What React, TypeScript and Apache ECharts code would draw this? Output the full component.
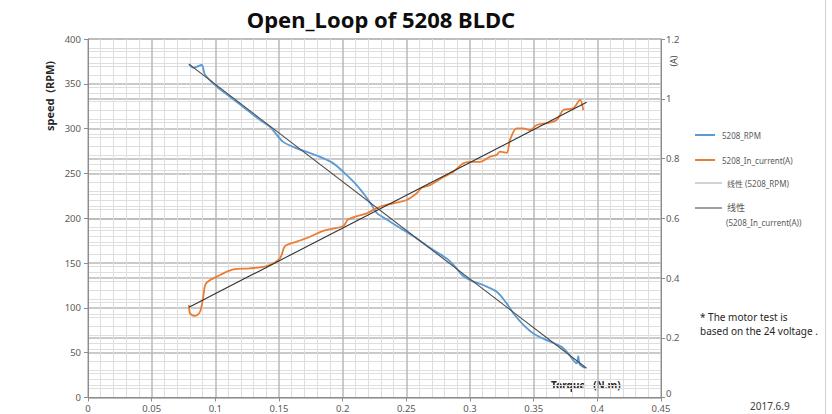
import React, { useEffect, useRef } from "react";
import * as echarts from "echarts";

// Blue: 5208_RPM (torque N.m, speed RPM)
const rpmTorque = [0.0793, 0.083, 0.0893, 0.0919, 0.1011, 0.1115, 0.1217, 0.1351, 0.1429, 0.1531, 0.1639, 0.1718, 0.1822, 0.1924, 0.2003, 0.211, 0.2199, 0.2267, 0.2319, 0.2476, 0.2581, 0.2712, 0.2817, 0.2882, 0.2935, 0.3, 0.3104, 0.321, 0.3288, 0.334, 0.3419, 0.3497, 0.3602, 0.372, 0.3772, 0.3838, 0.385, 0.3862, 0.3903];
const rpmValues = [372, 368, 371, 360, 347, 335.5, 324.5, 309.5, 302, 285.5, 278, 274, 268.5, 261.5, 252, 237, 221, 206, 201, 187, 177.5, 164.5, 155, 146, 137, 131, 125.5, 118, 105, 94, 81, 71.5, 64, 56.5, 49, 38, 46, 37, 33];

// Orange: 5208_In_current(A)
const curTorque = [0.0793, 0.0801, 0.084, 0.088, 0.0905, 0.0927, 0.1037, 0.1141, 0.1272, 0.1403, 0.1508, 0.1547, 0.1639, 0.1743, 0.1848, 0.2005, 0.2044, 0.2188, 0.2293, 0.2397, 0.2503, 0.2581, 0.262, 0.2686, 0.279, 0.2869, 0.2947, 0.3, 0.3078, 0.3157, 0.3209, 0.3235, 0.3288, 0.3314, 0.3366, 0.3418, 0.347, 0.3524, 0.3602, 0.368, 0.3733, 0.3811, 0.3864, 0.389];
const curValues = [0.31, 0.282, 0.273, 0.287, 0.337, 0.382, 0.41, 0.429, 0.4325, 0.44, 0.466, 0.507, 0.5215, 0.538, 0.558, 0.574, 0.5965, 0.6166, 0.6386, 0.65, 0.661, 0.6835, 0.702, 0.711, 0.737, 0.756, 0.784, 0.789, 0.789, 0.806, 0.812, 0.823, 0.819, 0.862, 0.901, 0.901, 0.895, 0.912, 0.918, 0.929, 0.962, 0.968, 0.996, 0.962];

// Linear trendlines (endpoints)
const trendTorque = [0.0793, 0.3916];
const rpmTrend = [372, 32.6];
const curTrend = [0.302, 0.988];

const xTicks = { min: 0, max: 0.45, interval: 0.05 };
const rpmTicks = { min: 0, max: 400, interval: 50 };
const ampTicks = { min: 0, max: 1.2, interval: 0.2 };

const legendNames = ["5208_RPM", "5208_In_current(A)", "线性 (5208_RPM)", "线性", "(5208_In_current(A))"];

const pair = (xs: number[], ys: number[]) => xs.map((x, i) => [x, ys[i]]);

export default function App() {
  const ref = useRef<HTMLDivElement>(null);
  useEffect(() => {
    if (!ref.current) return;
    const chart = echarts.init(ref.current, null, { renderer: "svg" });
    const font = "'Noto Sans', 'Noto Sans CJK SC', sans-serif";
    const labelStyle = { color: "#595959", fontSize: 9.5, lineHeight: 10, fontFamily: font };
    const major = { show: true, lineStyle: { color: "#b8b8b8", width: 1.5 } };
    const minor = { show: true, lineStyle: { color: "#dedede", width: 1 } };
    chart.setOption({
      animation: false,
      backgroundColor: "#ffffff",
      title: {
        text: "Open_Loop of 5208 BLDC",
        left: 376,
        textAlign: "center",
        top: 3,
        textStyle: { fontSize: 22, fontWeight: "bold", color: "#0d0d0d", fontFamily: font },
      },
      grid: { left: 88, right: 171, top: 39, bottom: 16.5, containLabel: false },
      xAxis: {
        type: "value",
        min: xTicks.min,
        max: xTicks.max,
        interval: xTicks.interval,
        axisLine: { show: true, onZero: false, lineStyle: { color: "#8c8c8c" } },
        axisTick: { show: true, length: 4, lineStyle: { color: "#8c8c8c" } },
        axisLabel: { ...labelStyle, margin: 5.5 },
        splitLine: major,
        minorTick: { show: false, splitNumber: 5 },
        minorSplitLine: minor,
      },
      yAxis: [
        {
          type: "value",
          min: rpmTicks.min,
          max: rpmTicks.max,
          interval: rpmTicks.interval,
          axisLine: { show: true, lineStyle: { color: "#8c8c8c" } },
          axisTick: { show: true, length: 4, lineStyle: { color: "#8c8c8c" } },
          axisLabel: { ...labelStyle, margin: 7 },
          splitLine: major,
          minorTick: { show: false, splitNumber: 5 },
          minorSplitLine: minor,
        },
        {
          type: "value",
          position: "right",
          min: ampTicks.min,
          max: ampTicks.max,
          interval: ampTicks.interval,
          axisLine: { show: true, lineStyle: { color: "#8c8c8c" } },
          axisTick: { show: true, length: 4, lineStyle: { color: "#8c8c8c" } },
          axisLabel: { ...labelStyle, lineHeight: 8, margin: 5, verticalAlignMinLabel: "bottom" },
          splitLine: major,
          minorTick: { show: false, splitNumber: 5 },
          minorSplitLine: minor,
        },
      ],
      series: [
        {
          name: "5208_RPM",
          type: "line",
          yAxisIndex: 0,
          data: pair(rpmTorque, rpmValues),
          smooth: 0.3,
          showSymbol: false,
          lineStyle: { color: "#5B9BD5", width: 1.8 },
          itemStyle: { color: "#5B9BD5" },
        },
        {
          name: "5208_In_current(A)",
          type: "line",
          yAxisIndex: 1,
          data: pair(curTorque, curValues),
          smooth: 0.3,
          showSymbol: false,
          lineStyle: { color: "#ED7D31", width: 1.8 },
          itemStyle: { color: "#ED7D31" },
        },
        {
          name: "线性 (5208_RPM)",
          type: "line",
          yAxisIndex: 0,
          data: pair(trendTorque, rpmTrend),
          showSymbol: false,
          lineStyle: { color: "#4a4a4a", width: 1.1 },
        },
        {
          name: "线性 (5208_In_current(A))",
          type: "line",
          yAxisIndex: 1,
          data: pair(trendTorque, curTrend),
          showSymbol: false,
          lineStyle: { color: "#303030", width: 1.1 },
        },
      ],
      graphic: [
        { type: "line", shape: { x1: 825.5, y1: 0, x2: 825.5, y2: 414 }, style: { stroke: "#d0d0d0", lineWidth: 1 } },
        {
          type: "text", x: 49, y: 96, rotation: Math.PI / 2,
          style: { text: "speed  (RPM)", font: `bold 11px ${font}`, fill: "#262626", textAlign: "center", textVerticalAlign: "middle" },
        },
        {
          type: "text", x: 673, y: 61, rotation: Math.PI / 2,
          style: { text: "(A)", font: `9px ${font}`, fill: "#404040", textAlign: "center", textVerticalAlign: "middle" },
        },
        {
          type: "text", x: 551, y: 385,
          style: { text: "Torque   (N.m)", font: `bold 10px ${font}`, fill: "#262626", textAlign: "left", textVerticalAlign: "middle" },
        },
        {
          type: "text", x: 750, y: 406,
          style: { text: "2017.6.9", font: `10px ${font}`, fill: "#404040", textAlign: "left", textVerticalAlign: "middle" },
        },
        {
          type: "text", x: 700, y: 317,
          style: { text: "* The motor test is", font: `10px ${font}`, fill: "#262626", textAlign: "left", textVerticalAlign: "middle" },
        },
        {
          type: "text", x: 700, y: 331,
          style: { text: "based on the 24 voltage .", font: `10px ${font}`, fill: "#262626", textAlign: "left", textVerticalAlign: "middle" },
        },
        { type: "line", shape: { x1: 695, y1: 135, x2: 715, y2: 135 }, style: { stroke: "#5B9BD5", lineWidth: 2 } },
        { type: "text", x: 722, y: 135, style: { text: legendNames[0], font: `8px ${font}`, fill: "#595959", textVerticalAlign: "middle" } },
        { type: "line", shape: { x1: 695, y1: 160, x2: 715, y2: 160 }, style: { stroke: "#ED7D31", lineWidth: 2 } },
        { type: "text", x: 722, y: 160, style: { text: legendNames[1], font: `8px ${font}`, fill: "#595959", textVerticalAlign: "middle" } },
        { type: "line", shape: { x1: 695, y1: 183, x2: 722, y2: 183 }, style: { stroke: "#a6a6a6", lineWidth: 1 } },
        { type: "text", x: 727, y: 183, style: { text: legendNames[2], font: `8px ${font}`, fill: "#595959", textVerticalAlign: "middle" } },
        { type: "line", shape: { x1: 695, y1: 208, x2: 722, y2: 208 }, style: { stroke: "#404040", lineWidth: 1 } },
        { type: "text", x: 727, y: 207, style: { text: legendNames[3], font: `9px ${font}`, fill: "#595959", textVerticalAlign: "middle" } },
        { type: "text", x: 726, y: 222, style: { text: legendNames[4], font: `8px ${font}`, fill: "#595959", textVerticalAlign: "middle" } },
      ],
    });
    return () => chart.dispose();
  }, []);
  return <div ref={ref} style={{ position: "absolute", left: 0, top: 0, width: 832, height: 414 }} />;
}
